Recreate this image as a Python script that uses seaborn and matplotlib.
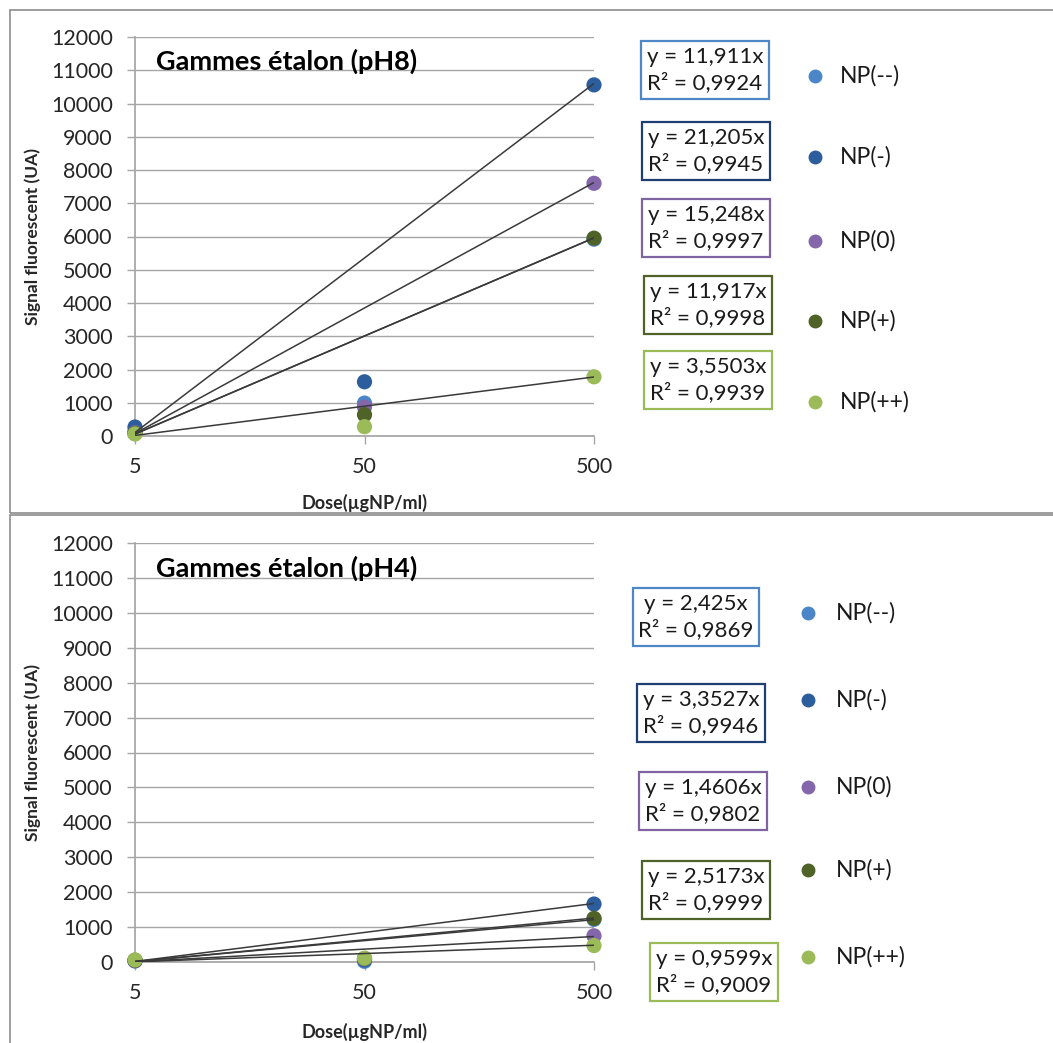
import pandas as pd
import seaborn as sns
import matplotlib.pyplot as plt
from matplotlib.lines import Line2D
from matplotlib.patches import Rectangle

sns.set_theme(style='white')
plt.rcParams['font.family'] = ['Lato', 'DejaVu Sans']

# Données
doses = ['5', '50', '500']
series = ['NP(--)', 'NP(-)', 'NP(0)', 'NP(+)', 'NP(++)']
colors = ['#4a86c8', '#2c5d9c', '#8466ab', '#4f6228', '#9bbb59']
box_colors = ['#4f87c6', '#1f3f73', '#8064a2', '#4f6228', '#9bbb59']

# pH8
ph8_nm2 = [150, 990, 5920]
ph8_nm1 = [270, 1630, 10560]
ph8_n0 = [100, 870, 7600]
ph8_np1 = [80, 640, 5950]
ph8_np2 = [60, 280, 1780]
ph8_slopes = [11.911, 21.205, 15.248, 11.917, 3.5503]
ph8_r2 = [0.9924, 0.9945, 0.9997, 0.9998, 0.9939]

# pH4
ph4_nm2 = [30, 20, 1220]
ph4_nm1 = [40, 60, 1660]
ph4_n0 = [40, 90, 750]
ph4_np1 = [50, 100, 1250]
ph4_np2 = [60, 110, 470]
ph4_slopes = [2.425, 3.3527, 1.4606, 2.5173, 0.9599]
ph4_r2 = [0.9869, 0.9946, 0.9802, 0.9999, 0.9009]

W, H = 1053, 1043
fig = plt.figure(figsize=(W / 100, H / 100), dpi=100)

# cadres des deux graphiques
fig.add_artist(Rectangle((10 / W, 1 - 513 / H), 1.2, 503 / H, transform=fig.transFigure,
                         fill=False, ec='#8c8c8c', lw=1.2))
fig.add_artist(Rectangle((10 / W, -0.1), 1.2, 0.1 + 1 - 515 / H, transform=fig.transFigure,
                         fill=False, ec='#8c8c8c', lw=1.2))


def fmt(v):
    return str(v).replace('.', ',')


def panel(top, bottom, title, values, slopes, r2, box_xy, leg_y):
    ax = fig.add_axes([135 / W, 1 - bottom / H, 459 / W, (bottom - top) / H])
    rows = []
    for name, vals in zip(series, values):
        for i, v in enumerate(vals):
            rows.append({'np': name, 'pos': i, 'signal': v})
    df = pd.DataFrame(rows)
    sns.scatterplot(data=df, x='pos', y='signal', hue='np', palette=colors, s=120,
                    edgecolor='none', legend=False, ax=ax, clip_on=False, zorder=3)

    # courbes de tendance y = a*x entre 5 et 500
    trend = []
    for name, a in zip(series, slopes):
        trend.append({'np': name, 'pos': 0, 'fit': a * float(doses[0])})
        trend.append({'np': name, 'pos': 2, 'fit': a * float(doses[-1])})
    tdf = pd.DataFrame(trend)
    sns.lineplot(data=tdf, x='pos', y='fit', units='np', estimator=None, color='#3a3a3a',
                 lw=1.1, ax=ax, zorder=4)

    ax.set_xlim(0, 2)
    ax.set_ylim(0, 12000)
    ax.set_xticks(range(len(doses)))
    ax.set_xticklabels(doses)
    ax.set_yticks(range(0, 12001, 1000))
    ax.yaxis.grid(True, color='#a6a6a6', lw=1)
    ax.set_axisbelow(True)
    for s in ['top', 'right']:
        ax.spines[s].set_visible(False)
    for s in ['left', 'bottom']:
        ax.spines[s].set_color('#a6a6a6')
    ax.tick_params(axis='both', which='both', direction='out', length=6, width=1,
                   color='#a6a6a6', labelsize=15.5, labelcolor='#262626')
    ax.tick_params(axis='y', pad=10, left=True)
    ax.tick_params(axis='x', pad=9, bottom=True)
    ax.set_xlabel('Dose(µgNP/ml)', fontsize=13, fontweight='bold', color='#262626')
    ax.set_ylabel('Signal fluorescent (UA)', fontsize=12.5, fontweight='bold', color='#262626')
    ax.xaxis.set_label_coords(0.5, -0.145)
    ax.yaxis.set_label_coords(-0.205, 0.5)
    ax.text(0.045, 0.94, title, transform=ax.transAxes, fontsize=19.5, fontweight='bold',
            va='center', ha='left', color='#000000')

    for i, name in enumerate(series):
        bx, by = box_xy[i]
        fig.text(bx / W, 1 - by / H, f'y = {fmt(slopes[i])}x\nR² = {fmt(r2[i])}',
                 ha='center', va='center', multialignment='center', fontsize=16,
                 linespacing=1.35, color='#1a1a1a',
                 bbox=dict(boxstyle='square,pad=0.25', fc='white', ec=box_colors[i], lw=1.6))
        ly = leg_y[i]
        fig.add_artist(Line2D([leg_x[0] / W], [1 - ly / H], marker='o', markersize=9,
                              color=colors[i], lw=0, transform=fig.transFigure))
        fig.text(leg_x[1] / W, 1 - ly / H, name, ha='left', va='center', fontsize=16.5,
                 color='#1a1a1a')
    return ax


leg_x = (815, 840)
panel(37, 436, 'Gammes étalon (pH8)',
      [ph8_nm2, ph8_nm1, ph8_n0, ph8_np1, ph8_np2], ph8_slopes, ph8_r2,
      [(705, 70), (706, 151), (706, 228), (708, 305), (708, 380)],
      [76, 157, 241, 321, 402])
leg_x = (808, 836)
panel(543, 962, 'Gammes étalon (pH4)',
      [ph4_nm2, ph4_nm1, ph4_n0, ph4_np1, ph4_np2], ph4_slopes, ph4_r2,
      [(696, 617), (701, 713), (703, 801), (706, 890), (714, 972)],
      [613, 700, 787, 870, 957])

fig.savefig('out.png', dpi=100, facecolor='white')
